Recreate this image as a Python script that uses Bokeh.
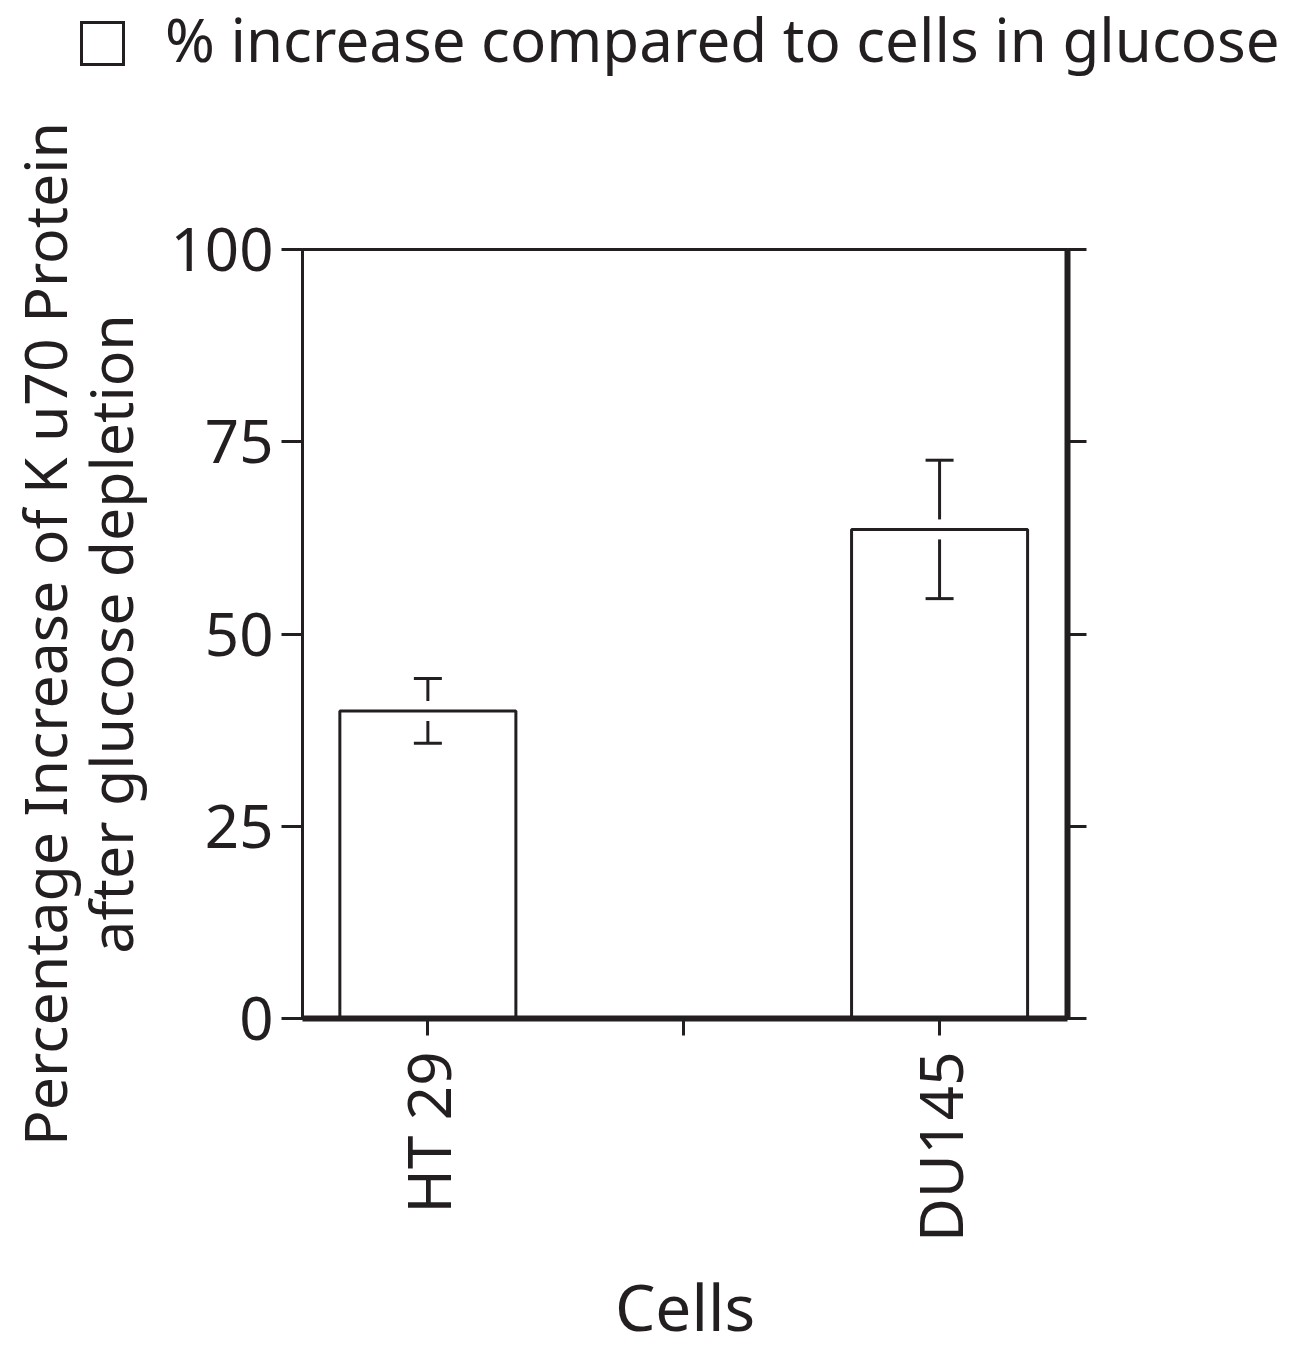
import math
from bokeh.plotting import figure
from bokeh.layouts import column
from bokeh.models import (ColumnDataSource, Range1d, LinearAxis, FixedTicker, Div)
from bokeh.embed import file_html
from bokeh.resources import INLINE

# ---- data ----
categories = ["HT 29", "DU145"]
cat_positions = [1, 2]
values = [40.0, 63.6]
errors = [4.2, 9.0]
y_ticks = [0, 25, 50, 75, 100]
legend_label = "% increase compared to cells in glucose"
y_label = "Percentage Increase of K u70 Protein\nafter glucose depletion"
x_label = "Cells"

INK = "#231f20"
FONT = "Noto Sans"
gap = 1.3
TOP_H = 90

upper = [v + e for v, e in zip(values, errors)]
lower = [v - e for v, e in zip(values, errors)]
src = ColumnDataSource(dict(
    x=cat_positions, top=values, upper=upper, lower=lower,
    up0=[v + gap for v in values], lo1=[v - gap for v in values],
))

# ---- legend strip (key box + label) ----
legend_html = (
    f'<div style="position:relative;width:1290px;height:{TOP_H}px;'
    f'font-family:\'{FONT}\';color:{INK};">'
    f'<div style="position:absolute;left:80px;top:21px;width:45px;height:45px;'
    f'box-sizing:border-box;border:3px solid {INK};background:white;"></div>'
    f'<div style="position:absolute;left:165px;top:9px;font-size:60px;line-height:1;'
    f'white-space:nowrap;">{legend_label}</div>'
    f'</div>'
)
legend_div = Div(text=legend_html, width=1290, height=TOP_H, margin=0)

# ---- main plot ----
p = figure(width=1284, height=1353 - TOP_H, x_range=Range1d(0.755, 2.25), y_range=Range1d(0, 100),
           output_backend="svg", toolbar_location=None,
           min_border_left=296, min_border_right=217, min_border_top=249 - TOP_H,
           min_border_bottom=332)
p.grid.visible = False
p.outline_line_color = INK
p.outline_line_width = 3
p.background_fill_color = "white"
p.border_fill_color = "white"

bars = p.vbar(x="x", top="top", width=0.344, bottom=0, source=src,
              fill_color="white", line_color=INK, line_width=3)
p.segment(x0="x", y0="up0", x1="x", y1="upper", source=src, line_color=INK, line_width=3)
p.segment(x0="x", y0="lower", x1="x", y1="lo1", source=src, line_color=INK, line_width=3)
p.dash(x="x", y="upper", source=src, size=28, line_color=INK, line_width=3)
p.dash(x="x", y="lower", source=src, size=28, line_color=INK, line_width=3)

# left axis
ya = p.yaxis[0]
ya.ticker = FixedTicker(ticks=y_ticks)
ya.minor_tick_line_color = None
ya.major_tick_out = 21
ya.major_tick_in = 0
ya.major_tick_line_width = 3
ya.major_tick_line_color = INK
ya.axis_line_width = 3
ya.axis_line_color = INK
ya.major_label_text_font = FONT
ya.major_label_text_font_size = "60px"
ya.major_label_text_color = INK
ya.major_label_standoff = 8
ya.axis_label = y_label
ya.axis_label_text_font = FONT
ya.axis_label_text_font_size = "59px"
ya.axis_label_text_font_style = "normal"
ya.axis_label_text_color = INK
ya.axis_label_text_line_height = 0.82
ya.axis_label_standoff = 18

# right axis
ra = LinearAxis(ticker=FixedTicker(ticks=y_ticks))
ra.minor_tick_line_color = None
ra.major_tick_out = 19
ra.major_tick_in = 0
ra.major_tick_line_width = 3
ra.major_tick_line_color = INK
ra.axis_line_width = 6
ra.axis_line_color = INK
ra.major_label_text_color = None
p.add_layout(ra, "right")

# bottom axis
xa = p.xaxis[0]
xa.ticker = FixedTicker(ticks=[1, 1.5, 2])
xa.major_label_overrides = {1: categories[0], 1.5: "", 2: categories[1]}
xa.minor_tick_line_color = None
xa.major_tick_out = 17
xa.major_tick_in = 0
xa.major_tick_line_width = 3
xa.major_tick_line_color = INK
xa.axis_line_width = 6
xa.axis_line_color = INK
xa.major_label_orientation = math.pi / 2
xa.major_label_text_font = FONT
xa.major_label_text_font_size = "60px"
xa.major_label_text_color = INK
xa.major_label_standoff = 16
xa.axis_label = x_label
xa.axis_label_text_font = FONT
xa.axis_label_text_font_size = "64px"
xa.axis_label_text_font_style = "normal"
xa.axis_label_text_color = INK
xa.axis_label_standoff = 18

layout = column(legend_div, p, spacing=0)
open("out.html", "w").write(file_html(layout, INLINE))
